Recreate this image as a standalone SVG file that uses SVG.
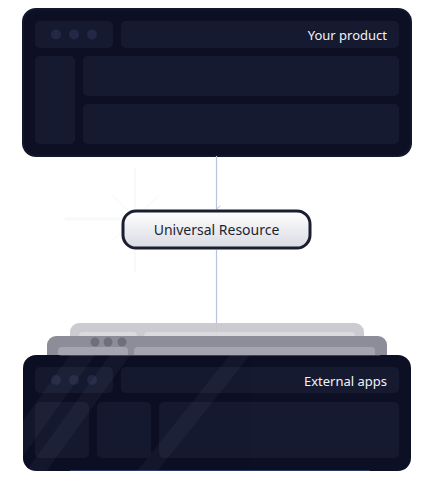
<svg xmlns="http://www.w3.org/2000/svg" width="433" height="493" viewBox="0 0 433 493">
<defs>
<style>
.panel{fill:#0d1025;stroke:#13172c;stroke-width:2}
.box{fill:#161a31}
.dot{fill:#232944}
.title{font-family:"Noto Sans","Liberation Sans",sans-serif;font-size:13px;fill:#f2f3f7;text-anchor:end}
.conn{stroke:#b9c3da;stroke-width:1.2;fill:none}
.spark{stroke:#e9ecf2;stroke-linecap:round}
</style>
<linearGradient id="nodeFill" x1="0" y1="0" x2="0" y2="1">
<stop offset="0" stop-color="#ffffff"/>
<stop offset="1" stop-color="#d9dbe3"/>
</linearGradient>
<marker id="arr" viewBox="0 0 10 10" refX="5" refY="9" markerWidth="8" markerHeight="8" orient="auto-start-reverse" markerUnits="userSpaceOnUse">
<path d="M1 4 L5 9 L9 4" fill="none" stroke="#b9c3da" stroke-width="1.2"/>
</marker>
<clipPath id="frontClip"><rect x="23" y="355" width="388" height="116" rx="13"/></clipPath>
</defs>

<g id="sparkle" opacity="0.5">
<line class="spark" x1="135" y1="168" x2="135" y2="272" stroke-width="2" opacity="0.5"/>
<line class="spark" x1="66" y1="219" x2="122" y2="219" stroke-width="3" opacity="0.5"/>
<line class="spark" x1="113" y1="196" x2="158" y2="240" stroke-width="1.5" opacity="0.4"/>
<line class="spark" x1="158" y1="196" x2="113" y2="240" stroke-width="1.5" opacity="0.4"/>
</g>

<g id="your-product">
<rect class="panel" x="23" y="9" width="388" height="147" rx="13"/>
<rect class="box" x="35" y="21" width="78" height="27" rx="5"/>
<circle class="dot" cx="56" cy="34.5" r="5"/>
<circle class="dot" cx="74" cy="34.5" r="5"/>
<circle class="dot" cx="92" cy="34.5" r="5"/>
<rect class="box" x="121" y="21" width="278" height="27" rx="5"/>
<text class="title" x="387" y="39.5">Your product</text>
<rect class="box" x="35" y="56" width="40" height="88" rx="5"/>
<rect class="box" x="83" y="56" width="316" height="40" rx="5"/>
<rect class="box" x="83" y="104" width="316" height="40" rx="5"/>
</g>

<g id="connectors">
<line class="conn" x1="216.5" y1="156" x2="216.5" y2="209" marker-end="url(#arr)"/>
<line class="conn" x1="216.5" y1="250" x2="216.5" y2="355"/>
</g>

<g id="universal-resource">
<rect x="123" y="211" width="187" height="37" rx="13" fill="url(#nodeFill)" stroke="#1b1e2f" stroke-width="3"/>
<text x="216.5" y="235" font-family="Noto Sans,Liberation Sans,sans-serif" font-size="14" fill="#1c1f31" text-anchor="middle">Universal Resource</text>
</g>

<g id="external-apps">
<g opacity="0.95">
<rect x="70" y="323" width="294" height="40" rx="9" fill="#c9c9cf"/>
<rect x="79" y="332" width="58" height="24" rx="4" fill="#d9d9de"/>
<rect x="144" y="332" width="211" height="24" rx="4" fill="#d9d9de"/>
</g>
<g>
<rect x="47" y="336" width="340" height="30" rx="9" fill="#8c8d98"/>
<circle cx="95" cy="342" r="4.5" fill="#6e6f7b"/>
<circle cx="108" cy="342" r="4.5" fill="#6e6f7b"/>
<circle cx="122" cy="342" r="4.5" fill="#6e6f7b"/>
<rect x="58" y="347" width="70" height="14" rx="4" fill="#a4a5ae"/>
<rect x="134" y="347" width="241" height="14" rx="4" fill="#a4a5ae"/>
</g>
<rect x="23" y="355" width="388" height="116" rx="13" fill="#0d1025"/>
<line x1="60" y1="355.5" x2="380" y2="355.5" stroke="#5a7bb5" stroke-width="1" opacity="0.5"/>
<rect x="35" y="367" width="78" height="26" rx="5" class="box"/>
<circle class="dot" cx="56" cy="380" r="5"/>
<circle class="dot" cx="74" cy="380" r="5"/>
<circle class="dot" cx="92" cy="380" r="5"/>
<rect class="box" x="121" y="367" width="278" height="26" rx="5"/>
<text class="title" x="387" y="386">External apps</text>
<rect class="box" x="35" y="402" width="54" height="56" rx="5"/>
<rect class="box" x="97" y="402" width="54" height="56" rx="5"/>
<rect class="box" x="159" y="402" width="240" height="56" rx="5"/>
<g clip-path="url(#frontClip)" opacity="0.03" fill="#ffffff">
<polygon points="70,355 95,355 20,460 20,425"/>
<polygon points="110,355 130,355 40,480 20,480"/>
<polygon points="230,355 250,355 150,480 130,480"/>
</g>
<line x1="70" y1="470.5" x2="370" y2="470.5" stroke="#5a7bb5" stroke-width="1" opacity="0.4"/>
</g>
</svg>
